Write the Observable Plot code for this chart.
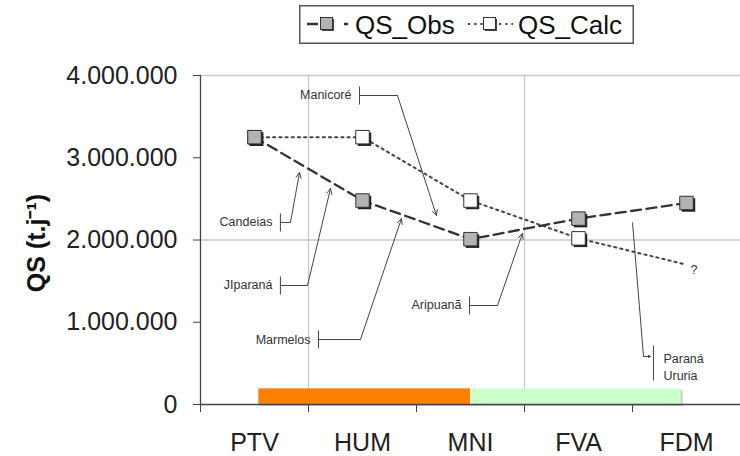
<!DOCTYPE html>
<html>
<head>
<meta charset="utf-8">
<script src="https://cdn.jsdelivr.net/npm/d3@7"></script>
<script src="https://cdn.jsdelivr.net/npm/@observablehq/plot@0.6"></script>
<style>
  html, body { margin: 0; padding: 0; background: #fff; }
  #wrap { position: relative; width: 740px; height: 456px; font-family: "Liberation Sans", Arial, sans-serif; }
  #chart { position: absolute; left: 0; top: 0; }
  #legend { position: absolute; left: 299px; top: 5px; }
</style>
</head>
<body>
<div id="wrap"><div id="chart"></div><div id="legend"></div></div>
<script>
// ---- data ----
const categories = ["PTV", "HUM", "MNI", "FVA", "FDM"];
const seriesNames = ["QS_Obs", "QS_Calc"];
const qsObs  = [3250000, 2480000, 2010000, 2260000, 2450000];
const qsCalc = [3250000, 3250000, 2480000, 2020000, 1700000];
const calcHasMarker = [true, true, true, true, false];
const calcEndLabel = "?";
const yTicks = [0, 1000000, 2000000, 3000000, 4000000];
const yGrid = [2000000, 4000000];
const xGrid = [0.5, 2.5];
const xBoundaries = [-0.5, 0.5, 1.5, 2.5, 3.5, 4.5];

// phase bars along the bottom (x in category index units)
const phaseStart = [0.04, 2.0];
const phaseEnd   = [2.0, 3.95];
const phaseTop = 190000;
const phaseColors = ["#ff7f00", "#ccffcc"];

// callouts: label, tick x, label y, elbow x, arrow tip x / y (data units)
const calloutLabels = ["Candeias", "JIparaná", "Marmelos", "Manicoré", "Aripuanã"];
const calloutTickX  = [0.24, 0.24, 0.593, 0.972, 1.991];
const calloutY      = [2213000, 1447000, 790000, 3757000, 1204000];
const calloutElbowX = [0.333, 0.491, 0.981, 1.324, 2.25];
const calloutTipX   = [0.417, 0.704, 1.361, 1.685, 2.481];
const calloutTipY   = [2821000, 2626000, 2261000, 2298000, 2079000];
const calloutHalf = 110000;

// reverse callout (Paraná / Ururia)
const rivLabel = "Paraná\nUruria";
const rivStart = {x: 3.5, y: 2213000};
const rivElbow = {x: 3.602, y: 584000};
const rivTip   = {x: 3.667, y: 584000};
const rivTick  = {x: 3.694, y1: 292000, y2: 717000, labelY: 470000};

// ---- derived tables ----
const obs = categories.map((c, i) => ({i, c, v: qsObs[i]}));
const calc = categories.map((c, i) => ({i, c, v: qsCalc[i], m: calcHasMarker[i]}));
const calcPts = calc.filter(d => d.m);
const phases = phaseStart.map((s, k) => ({s, e: phaseEnd[k], k}));
const callouts = calloutLabels.map((label, k) => ({
  label, tx: calloutTickX[k], y: calloutY[k], ex: calloutElbowX[k], ax: calloutTipX[k], ay: calloutTipY[k]
}));

const locale = d3.formatLocale({decimal: ",", thousands: ".", grouping: [3], currency: ["", ""]});
const fmt = locale.format(",");

const ink = "#333";
const annot = {fontSize: 12.5, fill: "#333"};

const chart = Plot.plot({
  width: 740, height: 456,
  marginLeft: 200, marginRight: 0, marginTop: 75, marginBottom: 52,
  style: {fontFamily: "'Liberation Sans', Arial, sans-serif", fontSize: "25px", color: "#222", background: "#fff"},
  x: {type: "linear", domain: [-0.5, 4.5]},
  y: {domain: [0, 4000000]},
  marks: [
    Plot.ruleY(yGrid, {stroke: "#c8c8c8", strokeWidth: 1.3}),
    Plot.ruleX(xGrid, {stroke: "#c8c8c8", strokeWidth: 1.3}),
    // phase bars with shadow
    Plot.rect(phases, {x1: "s", x2: "e", y1: 0, y2: phaseTop, fill: "#9a9a9a", fillOpacity: 0.5, dx: 2, dy: 2}),
    Plot.rect(phases, {x1: "s", x2: "e", y1: 0, y2: phaseTop, fill: d => phaseColors[d.k]}),
    // axis lines
    Plot.ruleX([-0.5], {y1: 0, y2: 4000000, stroke: "#444", strokeWidth: 1.3}),
    Plot.ruleY([0], {stroke: "#444", strokeWidth: 1.3}),
    Plot.axisY({ticks: yTicks, tickFormat: fmt, tickSize: 7, tickPadding: 16, label: null, stroke: "#444", fill: "#222"}),
    Plot.axisX({ticks: xBoundaries, tickFormat: () => "", tickSize: 8, label: null, stroke: "#444"}),
    Plot.axisX({ticks: categories.map((c, i) => i), tickFormat: i => categories[i], tickSize: 0, tickPadding: 29, label: null, fill: "#222"}),
    // y title
    Plot.text(["QS (t.j⁻¹)"], {frameAnchor: "left", textAnchor: "middle", dx: -164, dy: 3, rotate: -90, fontWeight: "bold", fontSize: 25, fill: "#111"}),
    // callouts
    Plot.text(callouts, {x: "tx", y: "y", text: "label", textAnchor: "end", dx: -8, ...annot}),
    Plot.link(callouts, {x1: "tx", x2: "tx", y1: d => d.y - calloutHalf, y2: d => d.y + calloutHalf, stroke: "#444", strokeWidth: 1}),
    Plot.link(callouts, {x1: "tx", x2: "ex", y1: "y", y2: "y", stroke: "#444", strokeWidth: 1}),
    Plot.arrow(callouts, {x1: "ex", y1: "y", x2: "ax", y2: "ay", stroke: "#444", strokeWidth: 1, headLength: 9, headAngle: 50}),
    Plot.link([rivStart], {x1: "x", y1: "y", x2: () => rivElbow.x, y2: () => rivElbow.y, stroke: "#444", strokeWidth: 1}),
    Plot.arrow([rivElbow], {x1: "x", y1: "y", x2: () => rivTip.x, y2: () => rivTip.y, stroke: "#444", strokeWidth: 1, headLength: 8, headAngle: 50}),
    Plot.link([rivTick], {x1: "x", x2: "x", y1: "y1", y2: "y2", stroke: "#444", strokeWidth: 1}),
    Plot.text([rivTick], {x: "x", y: "labelY", text: () => rivLabel, textAnchor: "start", dx: 10, lineHeight: 1.35, ...annot}),
    // series lines
    Plot.line(calc, {x: "i", y: "v", stroke: "#444", strokeWidth: 2, strokeDasharray: "2.2,4"}),
    Plot.line(obs, {x: "i", y: "v", stroke: "#333", strokeWidth: 2.3, strokeDasharray: "10,5.5"}),
    Plot.text(calc.filter(d => !d.m), {x: "i", y: "v", text: () => calcEndLabel, textAnchor: "start", dx: 4, dy: 5, ...annot}),
    // markers (calc under obs) with shadow
    Plot.dot(calcPts, {x: "i", y: "v", symbol: "square", r: 7.6, fill: "#222", dx: 2, dy: 2}),
    Plot.dot(calcPts, {x: "i", y: "v", symbol: "square", r: 7.6, fill: "#fff", stroke: ink, strokeWidth: 1}),
    Plot.dot(obs, {x: "i", y: "v", symbol: "square", r: 7.6, fill: "#222", dx: 2, dy: 2}),
    Plot.dot(obs, {x: "i", y: "v", symbol: "square", r: 7.6, fill: "#b3b3b3", stroke: ink, strokeWidth: 1})
  ]
});
document.getElementById("chart").appendChild(chart);

// ---- legend ----
const ns = "http://www.w3.org/2000/svg";
const lg = d3.create("svg").attr("xmlns", ns).attr("width", 335).attr("height", 39)
  .style("font-family", "'Liberation Sans', Arial, sans-serif");
lg.append("rect").attr("x", 0.75).attr("y", 0.75).attr("width", 333.5).attr("height", 37.5)
  .attr("fill", "#fff").attr("stroke", "#555").attr("stroke-width", 1.5);
const cy = 19;
// Obs symbol
lg.append("line").attr("x1", 8).attr("x2", 49).attr("y1", cy).attr("y2", cy)
  .attr("stroke", "#333").attr("stroke-width", 2.3).attr("stroke-dasharray", "11,26,6");
lg.append("rect").attr("x", 23).attr("y", cy - 5).attr("width", 12).attr("height", 12).attr("fill", "#444");
lg.append("rect").attr("x", 21.5).attr("y", cy - 6.5).attr("width", 12).attr("height", 12).attr("fill", "#b3b3b3").attr("stroke", "#333");
lg.append("text").attr("x", 56).attr("y", cy + 9.5).attr("font-size", 26).attr("fill", "#111").text(seriesNames[0]);
// Calc symbol
lg.append("line").attr("x1", 169).attr("x2", 214).attr("y1", cy).attr("y2", cy)
  .attr("stroke", "#444").attr("stroke-width", 2).attr("stroke-dasharray", "2.2,4");
lg.append("rect").attr("x", 186).attr("y", cy - 5).attr("width", 12).attr("height", 12).attr("fill", "#444");
lg.append("rect").attr("x", 184.5).attr("y", cy - 6.5).attr("width", 12).attr("height", 12).attr("fill", "#fff").attr("stroke", "#333");
lg.append("text").attr("x", 219).attr("y", cy + 9.5).attr("font-size", 26).attr("fill", "#111").text(seriesNames[1]);
document.getElementById("legend").appendChild(lg.node());
</script>
</body>
</html>
